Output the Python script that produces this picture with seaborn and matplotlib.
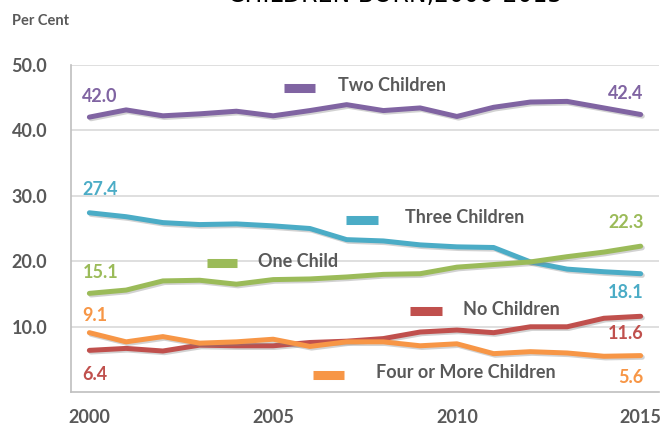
import matplotlib
matplotlib.use("Agg")
import matplotlib.pyplot as plt
import matplotlib.patheffects as pe
import seaborn as sns
import pandas as pd

# data
years = list(range(2000, 2016))
two_children = [42.0, 43.1, 42.2, 42.5, 42.9, 42.2, 43.0, 43.9, 43.0, 43.4, 42.1, 43.5, 44.3, 44.4, 43.4, 42.4]
three_children = [27.4, 26.8, 25.9, 25.6, 25.7, 25.4, 25.0, 23.3, 23.1, 22.5, 22.2, 22.1, 19.9, 18.8, 18.4, 18.1]
one_child = [15.1, 15.6, 17.0, 17.1, 16.5, 17.2, 17.3, 17.6, 18.0, 18.1, 19.1, 19.5, 19.9, 20.7, 21.4, 22.3]
no_children = [6.4, 6.7, 6.3, 7.2, 7.1, 7.1, 7.6, 7.8, 8.2, 9.2, 9.5, 9.1, 10.0, 10.0, 11.3, 11.6]
four_more = [9.1, 7.7, 8.5, 7.5, 7.7, 8.1, 7.0, 7.7, 7.7, 7.1, 7.4, 5.9, 6.2, 6.0, 5.5, 5.6]

series = ["Two Children", "Three Children", "One Child", "No Children", "Four or More Children"]
values = [two_children, three_children, one_child, no_children, four_more]
colors = ["#8064A2", "#4BACC6", "#9BBB59", "#C0504D", "#F79646"]

rows = []
for name, vals in zip(series, values):
    for i, (yr, v) in enumerate(zip(years, vals)):
        rows.append({"idx": i, "year": yr, "value": v, "series": name})
df = pd.DataFrame(rows)

# in-plot legend layout: swatch x0, x1, y ; label x, y (data units)
legend_pos = {
    "Two Children": (5.30, 6.14, 46.5, 6.77, 46.9),
    "Three Children": (6.98, 7.85, 26.3, 8.59, 26.7),
    "One Child": (3.20, 4.02, 19.7, 4.59, 20.0),
    "No Children": (8.72, 9.60, 12.4, 10.17, 12.7),
    "Four or More Children": (6.09, 6.93, 2.7, 7.80, 3.0),
}
# end label offsets in pixels (start dy, end dy)
label_dy = {
    "Two Children": (21, 21),
    "Three Children": (23, -19),
    "One Child": (21, 24),
    "No Children": (-24, -17),
    "Four or More Children": (17, -22),
}

sns.set_style("white")
plt.rcParams["font.family"] = ["Lato", "DejaVu Sans"]

fig = plt.figure(figsize=(6.62, 4.25), dpi=100)
ax = fig.add_axes([71 / 662, 1 - 392.3 / 425, 588 / 662, (392.3 - 64.7) / 425])

shadow = [pe.SimpleLineShadow(offset=(1.2, -1.2), shadow_color="0.5", alpha=0.35), pe.Normal()]
sns.lineplot(data=df, x="idx", y="value", hue="series", palette=colors,
             hue_order=series, linewidth=3.6, legend=False, ax=ax,
             path_effects=shadow, solid_capstyle="round")

txt = "#595959"
for name, vals, col in zip(series, values, colors):
    sx0, sx1, sy, lx, ly = legend_pos[name]
    ax.plot([sx0, sx1], [sy, sy], color=col, lw=6.5, solid_capstyle="butt")
    ax.text(lx, ly, name, color=txt, fontsize=13, fontweight="bold", va="center", ha="left")
    d0, d1 = label_dy[name]
    ax.annotate(f"{vals[0]:.1f}", (0, vals[0]), xytext=(-7, d0), textcoords="offset pixels",
                ha="left", va="center", color=col, fontsize=13, fontweight="bold")
    ax.annotate(f"{vals[-1]:.1f}", (15, vals[-1]), xytext=(3, d1), textcoords="offset pixels",
                ha="right", va="center", color=col, fontsize=13, fontweight="bold")

ax.set_xlim(-0.5, 15.5)
ax.set_ylim(0, 50)
ax.set_yticks([10, 20, 30, 40, 50])
ax.set_yticklabels([f"{v:.1f}" for v in [10, 20, 30, 40, 50]])
ax.set_xticks([0, 5, 10, 15])
ax.set_xticklabels(["2000", "2005", "2010", "2015"])
ax.set_xticks([i - 0.5 for i in range(17)], minor=True)
ax.tick_params(axis="x", which="major", length=0, pad=12)
ax.tick_params(axis="x", which="minor", length=6, width=1.2, color="#BFBFBF", direction="out")
ax.tick_params(axis="y", length=0, pad=17)
for lab in ax.get_xticklabels() + ax.get_yticklabels():
    lab.set_fontweight("bold")
    lab.set_fontsize(13)
    lab.set_color(txt)
ax.grid(axis="y", color="#D9D9D9", lw=1.2)
ax.set_axisbelow(True)
for s in ["top", "right"]:
    ax.spines[s].set_visible(False)
for s in ["left", "bottom"]:
    ax.spines[s].set_color("#BFBFBF")
    ax.spines[s].set_linewidth(1.2)
ax.set_xlabel("")
ax.set_ylabel("")

fig.text(12 / 662, 1 - 21 / 425, "Per Cent", color=txt, fontsize=10.5, fontweight="bold", va="center")
fig.text(395 / 662, 1 - 7 / 425, "CHILDREN BORN,2000-2015", color="black", fontsize=17,
         family="DejaVu Sans", ha="center", va="bottom")

fig.savefig("out.png", dpi=100)
